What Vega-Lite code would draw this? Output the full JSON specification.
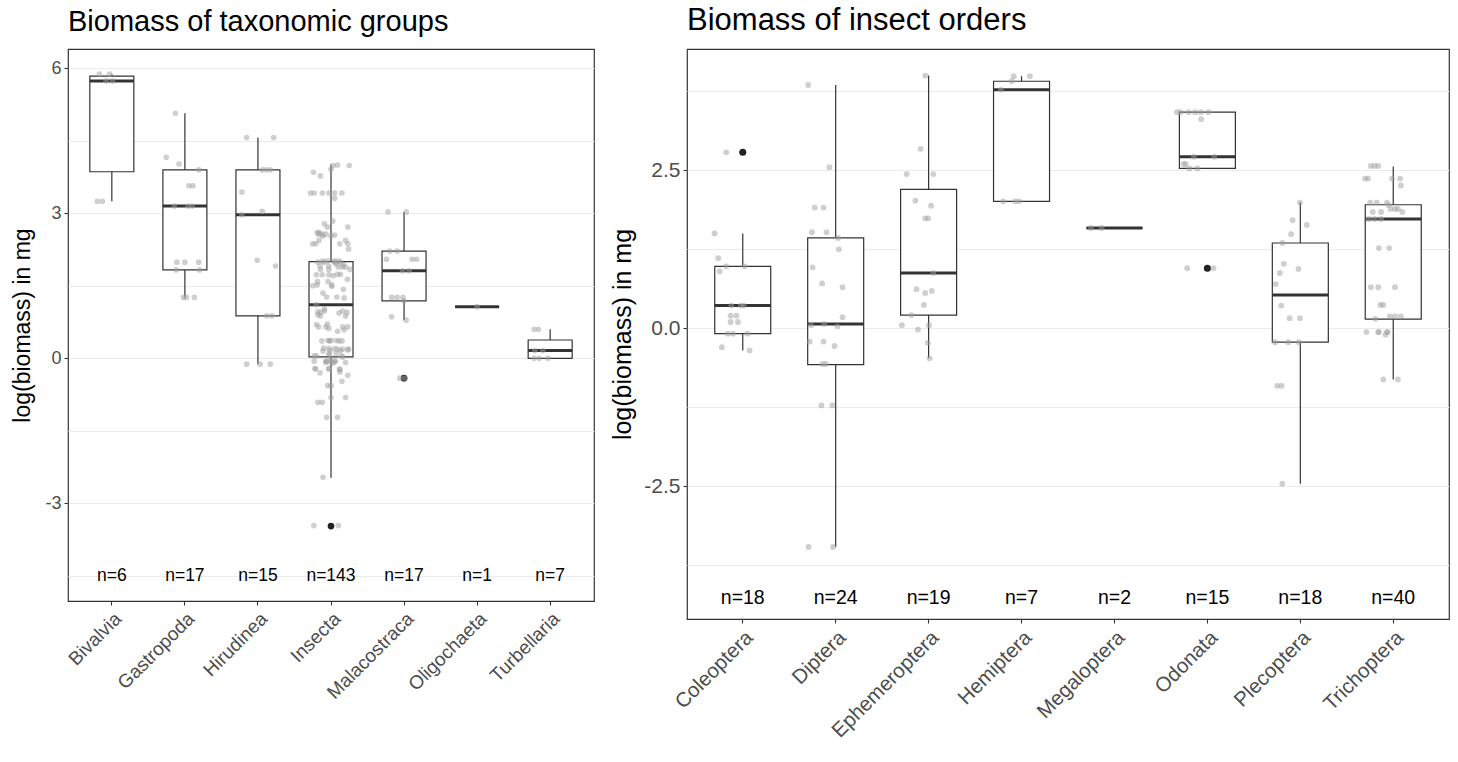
{
"$schema": "https://vega.github.io/schema/vega-lite/v6.json",
"autosize": {"type": "pad"},
"padding": {"left": 11, "top": 4, "right": 5, "bottom": 5},
"bounds": "flush",
"spacing": 93,
"config": {
  "font": "Liberation Sans",
  "view": {"stroke": "#333333", "strokeWidth": 1.2},
  "title": {"fontWeight": "normal", "color": "#000000", "anchor": "start", "frame": "group", "font": "Liberation Sans"},
  "axis": {"labelFont": "Liberation Sans", "titleFont": "Liberation Sans", "titleFontWeight": "normal", "titleColor": "#000000", "labelColor": "#4d4d4d", "tickColor": "#333333", "domain": false}
},
"datasets": {
  "lbox": [
    {"g": "Bivalvia", "lo": 3.25, "q1": 3.86, "med": 5.74, "q3": 5.84, "hi": 5.88, "lab": "n=6"},
    {"g": "Gastropoda", "lo": 1.26, "q1": 1.83, "med": 3.15, "q3": 3.9, "hi": 5.07, "lab": "n=17"},
    {"g": "Hirudinea", "lo": -0.12, "q1": 0.88, "med": 2.97, "q3": 3.9, "hi": 4.57, "lab": "n=15"},
    {"g": "Insecta", "lo": -2.47, "q1": 0.03, "med": 1.11, "q3": 2.0, "hi": 4.01, "lab": "n=143"},
    {"g": "Malacostraca", "lo": 0.79, "q1": 1.19, "med": 1.81, "q3": 2.22, "hi": 3.03, "lab": "n=17"},
    {"g": "Oligochaeta", "lo": 1.07, "q1": 1.07, "med": 1.07, "q3": 1.07, "hi": 1.07, "lab": "n=1"},
    {"g": "Turbellaria", "lo": 0, "q1": 0, "med": 0.16, "q3": 0.38, "hi": 0.6, "lab": "n=7"}
  ],
  "lout": [
    {"g": "Insecta", "v": -3.47},
    {"g": "Malacostraca", "v": -0.41}
  ],
  "lpts": [
    {"g": "Bivalvia", "v": 5.88, "j": -0.17}, {"g": "Bivalvia", "v": 5.88, "j": -0.03}, {"g": "Bivalvia", "v": 5.74, "j": -0.08}, {"g": "Bivalvia", "v": 5.74, "j": 0.01}, {"g": "Bivalvia", "v": 3.25, "j": -0.2}, {"g": "Bivalvia", "v": 3.25, "j": -0.13},
    {"g": "Gastropoda", "v": 5.07, "j": -0.13}, {"g": "Gastropoda", "v": 4.16, "j": -0.255}, {"g": "Gastropoda", "v": 4.02, "j": -0.08}, {"g": "Gastropoda", "v": 3.9, "j": 0.19}, {"g": "Gastropoda", "v": 3.57, "j": 0.055}, {"g": "Gastropoda", "v": 3.57, "j": 0.11}, {"g": "Gastropoda", "v": 3.15, "j": -0.145}, {"g": "Gastropoda", "v": 3.15, "j": 0.04}, {"g": "Gastropoda", "v": 3.15, "j": 0.1}, {"g": "Gastropoda", "v": 1.99, "j": -0.11}, {"g": "Gastropoda", "v": 1.99, "j": 0.19}, {"g": "Gastropoda", "v": 1.99, "j": 0.0}, {"g": "Gastropoda", "v": 1.83, "j": -0.12}, {"g": "Gastropoda", "v": 1.83, "j": 0.2}, {"g": "Gastropoda", "v": 1.26, "j": -0.02}, {"g": "Gastropoda", "v": 1.26, "j": 0.02}, {"g": "Gastropoda", "v": 1.26, "j": 0.13},
    {"g": "Hirudinea", "v": 4.57, "j": -0.155}, {"g": "Hirudinea", "v": 4.57, "j": 0.215}, {"g": "Hirudinea", "v": 3.9, "j": 0.06}, {"g": "Hirudinea", "v": 3.9, "j": 0.17}, {"g": "Hirudinea", "v": 3.9, "j": 0.115}, {"g": "Hirudinea", "v": 3.44, "j": -0.22}, {"g": "Hirudinea", "v": 3.04, "j": 0.06}, {"g": "Hirudinea", "v": 2.97, "j": -0.22}, {"g": "Hirudinea", "v": 2.03, "j": -0.01}, {"g": "Hirudinea", "v": 1.91, "j": 0.24}, {"g": "Hirudinea", "v": 0.88, "j": 0.12}, {"g": "Hirudinea", "v": 0.88, "j": 0.19}, {"g": "Hirudinea", "v": -0.12, "j": -0.155}, {"g": "Hirudinea", "v": -0.12, "j": 0.03}, {"g": "Hirudinea", "v": -0.12, "j": 0.17},
    {"g": "Malacostraca", "v": 3.03, "j": -0.22}, {"g": "Malacostraca", "v": 3.03, "j": 0.03}, {"g": "Malacostraca", "v": 2.22, "j": -0.195}, {"g": "Malacostraca", "v": 2.22, "j": -0.095}, {"g": "Malacostraca", "v": 2.05, "j": -0.24}, {"g": "Malacostraca", "v": 2.05, "j": 0.11}, {"g": "Malacostraca", "v": 2.05, "j": 0.17}, {"g": "Malacostraca", "v": 1.81, "j": -0.02}, {"g": "Malacostraca", "v": 1.81, "j": 0.07}, {"g": "Malacostraca", "v": 1.26, "j": -0.17}, {"g": "Malacostraca", "v": 1.26, "j": -0.095}, {"g": "Malacostraca", "v": 1.26, "j": -0.015}, {"g": "Malacostraca", "v": 1.19, "j": 0.0}, {"g": "Malacostraca", "v": 0.86, "j": -0.17}, {"g": "Malacostraca", "v": 0.79, "j": 0.03}, {"g": "Malacostraca", "v": -0.41, "j": -0.06}, {"g": "Malacostraca", "v": -0.41, "j": 0.01},
    {"g": "Oligochaeta", "v": 1.07, "j": 0.0},
    {"g": "Turbellaria", "v": 0.6, "j": -0.22}, {"g": "Turbellaria", "v": 0.6, "j": -0.16}, {"g": "Turbellaria", "v": 0.16, "j": -0.21}, {"g": "Turbellaria", "v": 0.16, "j": -0.1}, {"g": "Turbellaria", "v": 0, "j": -0.22}, {"g": "Turbellaria", "v": 0, "j": -0.15}, {"g": "Turbellaria", "v": 0, "j": -0.03}
  ],
  "rbox": [
    {"o": "Coleoptera", "lo": -0.35, "q1": -0.085, "med": 0.36, "q3": 0.98, "hi": 1.5, "lab": "n=18"},
    {"o": "Diptera", "lo": -3.46, "q1": -0.576, "med": 0.07, "q3": 1.43, "hi": 3.85, "lab": "n=24"},
    {"o": "Ephemeroptera", "lo": -0.475, "q1": 0.21, "med": 0.875, "q3": 2.2, "hi": 4.0, "lab": "n=19"},
    {"o": "Hemiptera", "lo": 2.01, "q1": 2.01, "med": 3.775, "q3": 3.91, "hi": 3.99, "lab": "n=7"},
    {"o": "Megaloptera", "lo": 1.587, "q1": 1.587, "med": 1.587, "q3": 1.587, "hi": 1.587, "lab": "n=2"},
    {"o": "Odonata", "lo": 2.53, "q1": 2.53, "med": 2.715, "q3": 3.42, "hi": 3.42, "lab": "n=15"},
    {"o": "Plecoptera", "lo": -2.46, "q1": -0.22, "med": 0.527, "q3": 1.35, "hi": 1.99, "lab": "n=18"},
    {"o": "Trichoptera", "lo": -0.81, "q1": 0.145, "med": 1.73, "q3": 1.955, "hi": 2.56, "lab": "n=40"}
  ],
  "rout": [
    {"o": "Coleoptera", "v": 2.785},
    {"o": "Odonata", "v": 0.95}
  ],
  "ins": [
    {"g": "Insecta", "o": "Coleoptera", "v": 2.785, "j": -0.09}, {"g": "Insecta", "o": "Coleoptera", "v": 1.5, "j": -0.25}, {"g": "Insecta", "o": "Coleoptera", "v": 1.11, "j": -0.2}, {"g": "Insecta", "o": "Coleoptera", "v": 0.98, "j": -0.09}, {"g": "Insecta", "o": "Coleoptera", "v": 0.98, "j": 0.16}, {"g": "Insecta", "o": "Coleoptera", "v": 0.9, "j": -0.18}, {"g": "Insecta", "o": "Coleoptera", "v": 0.36, "j": 0.11}, {"g": "Insecta", "o": "Coleoptera", "v": 0.36, "j": 0.15}, {"g": "Insecta", "o": "Coleoptera", "v": 0.36, "j": -0.02}, {"g": "Insecta", "o": "Coleoptera", "v": 0.2, "j": -0.03}, {"g": "Insecta", "o": "Coleoptera", "v": 0.2, "j": 0.05}, {"g": "Insecta", "o": "Coleoptera", "v": 0.1, "j": -0.03}, {"g": "Insecta", "o": "Coleoptera", "v": 0.1, "j": 0.07}, {"g": "Insecta", "o": "Coleoptera", "v": -0.085, "j": -0.07}, {"g": "Insecta", "o": "Coleoptera", "v": -0.085, "j": 0.2}, {"g": "Insecta", "o": "Coleoptera", "v": -0.085, "j": 0.0}, {"g": "Insecta", "o": "Coleoptera", "v": -0.3, "j": -0.15}, {"g": "Insecta", "o": "Coleoptera", "v": -0.35, "j": 0.23},
    {"g": "Insecta", "o": "Diptera", "v": 3.85, "j": -0.24}, {"g": "Insecta", "o": "Diptera", "v": 2.55, "j": 0.05}, {"g": "Insecta", "o": "Diptera", "v": 1.91, "j": -0.15}, {"g": "Insecta", "o": "Diptera", "v": 1.91, "j": -0.03}, {"g": "Insecta", "o": "Diptera", "v": 1.52, "j": -0.19}, {"g": "Insecta", "o": "Diptera", "v": 1.52, "j": 0.01}, {"g": "Insecta", "o": "Diptera", "v": 1.43, "j": 0.17}, {"g": "Insecta", "o": "Diptera", "v": 1.25, "j": 0.18}, {"g": "Insecta", "o": "Diptera", "v": 0.965, "j": -0.18}, {"g": "Insecta", "o": "Diptera", "v": 0.71, "j": -0.05}, {"g": "Insecta", "o": "Diptera", "v": 0.65, "j": 0.23}, {"g": "Insecta", "o": "Diptera", "v": 0.175, "j": 0.23}, {"g": "Insecta", "o": "Diptera", "v": 0.07, "j": -0.02}, {"g": "Insecta", "o": "Diptera", "v": 0.05, "j": -0.2}, {"g": "Insecta", "o": "Diptera", "v": 0.03, "j": 0.16}, {"g": "Insecta", "o": "Diptera", "v": -0.21, "j": -0.22}, {"g": "Insecta", "o": "Diptera", "v": -0.21, "j": -0.03}, {"g": "Insecta", "o": "Diptera", "v": -0.28, "j": 0.12}, {"g": "Insecta", "o": "Diptera", "v": -0.565, "j": -0.045}, {"g": "Insecta", "o": "Diptera", "v": -0.565, "j": 0.0}, {"g": "Insecta", "o": "Diptera", "v": -1.22, "j": -0.06}, {"g": "Insecta", "o": "Diptera", "v": -1.22, "j": 0.09}, {"g": "Insecta", "o": "Diptera", "v": -3.46, "j": -0.235}, {"g": "Insecta", "o": "Diptera", "v": -3.46, "j": 0.1},
    {"g": "Insecta", "o": "Ephemeroptera", "v": 4.0, "j": 0.09}, {"g": "Insecta", "o": "Ephemeroptera", "v": 2.84, "j": 0.025}, {"g": "Insecta", "o": "Ephemeroptera", "v": 2.44, "j": -0.165}, {"g": "Insecta", "o": "Ephemeroptera", "v": 2.44, "j": 0.2}, {"g": "Insecta", "o": "Ephemeroptera", "v": 2.02, "j": -0.045}, {"g": "Insecta", "o": "Ephemeroptera", "v": 1.94, "j": 0.17}, {"g": "Insecta", "o": "Ephemeroptera", "v": 1.74, "j": 0.09}, {"g": "Insecta", "o": "Ephemeroptera", "v": 1.74, "j": 0.13}, {"g": "Insecta", "o": "Ephemeroptera", "v": 0.875, "j": 0.2}, {"g": "Insecta", "o": "Ephemeroptera", "v": 0.62, "j": -0.03}, {"g": "Insecta", "o": "Ephemeroptera", "v": 0.59, "j": 0.18}, {"g": "Insecta", "o": "Ephemeroptera", "v": 0.56, "j": 0.09}, {"g": "Insecta", "o": "Ephemeroptera", "v": 0.37, "j": 0.07}, {"g": "Insecta", "o": "Ephemeroptera", "v": 0.21, "j": -0.1}, {"g": "Insecta", "o": "Ephemeroptera", "v": 0.05, "j": -0.23}, {"g": "Insecta", "o": "Ephemeroptera", "v": 0.05, "j": 0.14}, {"g": "Insecta", "o": "Ephemeroptera", "v": -0.02, "j": -0.01}, {"g": "Insecta", "o": "Ephemeroptera", "v": -0.23, "j": 0.125}, {"g": "Insecta", "o": "Ephemeroptera", "v": -0.475, "j": 0.15},
    {"g": "Insecta", "o": "Hemiptera", "v": 3.99, "j": 0.03}, {"g": "Insecta", "o": "Hemiptera", "v": 3.99, "j": 0.25}, {"g": "Insecta", "o": "Hemiptera", "v": 3.91, "j": 0.0}, {"g": "Insecta", "o": "Hemiptera", "v": 3.775, "j": -0.145}, {"g": "Insecta", "o": "Hemiptera", "v": 2.01, "j": -0.115}, {"g": "Insecta", "o": "Hemiptera", "v": 2.01, "j": 0.045}, {"g": "Insecta", "o": "Hemiptera", "v": 2.01, "j": 0.1},
    {"g": "Insecta", "o": "Megaloptera", "v": 1.587, "j": -0.185}, {"g": "Insecta", "o": "Megaloptera", "v": 1.587, "j": -0.04},
    {"g": "Insecta", "o": "Odonata", "v": 3.42, "j": -0.28}, {"g": "Insecta", "o": "Odonata", "v": 3.42, "j": -0.23}, {"g": "Insecta", "o": "Odonata", "v": 3.42, "j": -0.12}, {"g": "Insecta", "o": "Odonata", "v": 3.42, "j": -0.03}, {"g": "Insecta", "o": "Odonata", "v": 3.42, "j": 0.05}, {"g": "Insecta", "o": "Odonata", "v": 3.42, "j": 0.15}, {"g": "Insecta", "o": "Odonata", "v": 3.31, "j": 0.05}, {"g": "Insecta", "o": "Odonata", "v": 2.715, "j": 0.23}, {"g": "Insecta", "o": "Odonata", "v": 2.715, "j": -0.05}, {"g": "Insecta", "o": "Odonata", "v": 2.6, "j": -0.19}, {"g": "Insecta", "o": "Odonata", "v": 2.6, "j": -0.16}, {"g": "Insecta", "o": "Odonata", "v": 2.53, "j": -0.11}, {"g": "Insecta", "o": "Odonata", "v": 2.53, "j": 0.0}, {"g": "Insecta", "o": "Odonata", "v": 0.95, "j": -0.14}, {"g": "Insecta", "o": "Odonata", "v": 0.95, "j": 0.22},
    {"g": "Insecta", "o": "Plecoptera", "v": 1.99, "j": 0.13}, {"g": "Insecta", "o": "Plecoptera", "v": 1.71, "j": 0.03}, {"g": "Insecta", "o": "Plecoptera", "v": 1.635, "j": 0.225}, {"g": "Insecta", "o": "Plecoptera", "v": 1.49, "j": 0.01}, {"g": "Insecta", "o": "Plecoptera", "v": 1.35, "j": -0.11}, {"g": "Insecta", "o": "Plecoptera", "v": 1.02, "j": -0.09}, {"g": "Insecta", "o": "Plecoptera", "v": 0.94, "j": 0.11}, {"g": "Insecta", "o": "Plecoptera", "v": 0.875, "j": -0.145}, {"g": "Insecta", "o": "Plecoptera", "v": 0.7, "j": -0.2}, {"g": "Insecta", "o": "Plecoptera", "v": 0.36, "j": -0.125}, {"g": "Insecta", "o": "Plecoptera", "v": 0.16, "j": -0.01}, {"g": "Insecta", "o": "Plecoptera", "v": 0.16, "j": 0.13}, {"g": "Insecta", "o": "Plecoptera", "v": -0.22, "j": -0.21}, {"g": "Insecta", "o": "Plecoptera", "v": -0.22, "j": -0.03}, {"g": "Insecta", "o": "Plecoptera", "v": -0.22, "j": 0.115}, {"g": "Insecta", "o": "Plecoptera", "v": -0.91, "j": -0.18}, {"g": "Insecta", "o": "Plecoptera", "v": -0.91, "j": -0.12}, {"g": "Insecta", "o": "Plecoptera", "v": -2.46, "j": -0.11},
    {"g": "Insecta", "o": "Trichoptera", "v": 2.57, "j": -0.17}, {"g": "Insecta", "o": "Trichoptera", "v": 2.57, "j": -0.12}, {"g": "Insecta", "o": "Trichoptera", "v": 2.57, "j": -0.07}, {"g": "Insecta", "o": "Trichoptera", "v": 2.37, "j": -0.25}, {"g": "Insecta", "o": "Trichoptera", "v": 2.37, "j": -0.21}, {"g": "Insecta", "o": "Trichoptera", "v": 2.37, "j": 0.12}, {"g": "Insecta", "o": "Trichoptera", "v": 2.37, "j": 0.23}, {"g": "Insecta", "o": "Trichoptera", "v": 2.26, "j": 0.24}, {"g": "Insecta", "o": "Trichoptera", "v": 1.99, "j": -0.18}, {"g": "Insecta", "o": "Trichoptera", "v": 1.99, "j": -0.09}, {"g": "Insecta", "o": "Trichoptera", "v": 1.99, "j": 0.05}, {"g": "Insecta", "o": "Trichoptera", "v": 1.95, "j": 0.07}, {"g": "Insecta", "o": "Trichoptera", "v": 1.89, "j": 0.1}, {"g": "Insecta", "o": "Trichoptera", "v": 1.89, "j": 0.16}, {"g": "Insecta", "o": "Trichoptera", "v": 1.89, "j": 0.2}, {"g": "Insecta", "o": "Trichoptera", "v": 1.84, "j": -0.145}, {"g": "Insecta", "o": "Trichoptera", "v": 1.84, "j": -0.03}, {"g": "Insecta", "o": "Trichoptera", "v": 1.84, "j": 0.26}, {"g": "Insecta", "o": "Trichoptera", "v": 1.73, "j": -0.2}, {"g": "Insecta", "o": "Trichoptera", "v": 1.73, "j": -0.12}, {"g": "Insecta", "o": "Trichoptera", "v": 1.73, "j": -0.03}, {"g": "Insecta", "o": "Trichoptera", "v": 1.27, "j": -0.06}, {"g": "Insecta", "o": "Trichoptera", "v": 1.27, "j": 0.08}, {"g": "Insecta", "o": "Trichoptera", "v": 0.65, "j": -0.17}, {"g": "Insecta", "o": "Trichoptera", "v": 0.65, "j": -0.07}, {"g": "Insecta", "o": "Trichoptera", "v": 0.65, "j": 0.16}, {"g": "Insecta", "o": "Trichoptera", "v": 0.37, "j": 0.0}, {"g": "Insecta", "o": "Trichoptera", "v": 0.37, "j": -0.04}, {"g": "Insecta", "o": "Trichoptera", "v": 0.19, "j": 0.09}, {"g": "Insecta", "o": "Trichoptera", "v": 0.19, "j": 0.16}, {"g": "Insecta", "o": "Trichoptera", "v": 0.19, "j": 0.24}, {"g": "Insecta", "o": "Trichoptera", "v": 0.15, "j": -0.11}, {"g": "Insecta", "o": "Trichoptera", "v": -0.06, "j": -0.23}, {"g": "Insecta", "o": "Trichoptera", "v": -0.06, "j": -0.07}, {"g": "Insecta", "o": "Trichoptera", "v": -0.06, "j": 0.05}, {"g": "Insecta", "o": "Trichoptera", "v": -0.06, "j": -0.06}, {"g": "Insecta", "o": "Trichoptera", "v": -0.06, "j": 0.06}, {"g": "Insecta", "o": "Trichoptera", "v": -0.1, "j": 0.03}, {"g": "Insecta", "o": "Trichoptera", "v": -0.81, "j": 0.0}, {"g": "Insecta", "o": "Trichoptera", "v": -0.81, "j": 0.2}
  ]
},
"hconcat": [
  {
    "width": 526,
    "height": 552,
    "title": {"text": "Biomass of taxonomic groups", "fontSize": 29, "offset": 12},
    "encoding": {
      "x": {"field": "g", "type": "nominal", "title": null,
        "sort": ["Bivalvia", "Gastropoda", "Hirudinea", "Insecta", "Malacostraca", "Oligochaeta", "Turbellaria"],
        "scale": {"type": "band", "paddingInner": 0, "paddingOuter": 0.1},
        "axis": {"labelAngle": -45, "labelAlign": "right", "labelBaseline": "top", "labelFontSize": 19, "labelPadding": 4, "tickSize": 4, "tickWidth": 1.1, "grid": false, "labelOverlap": false}}
    },
    "layer": [
      {"data": {"name": "lbox"}, "mark": {"type": "rule", "color": "#333333", "strokeWidth": 1.2},
       "encoding": {
         "y": {"field": "lo", "type": "quantitative", "scale": {"domain": [-5.02, 6.4], "nice": false, "zero": false},
           "axis": {"title": "log(biomass) in mg", "titleFontSize": 23, "titlePadding": 10,
             "values": [-4.5, -3, -1.5, 0, 1.5, 3, 4.5, 6],
             "labelExpr": "datum.value % 3 === 0 ? '' + datum.value : ''",
             "labelFontSize": 18, "labelPadding": 3, "tickSize": 4, "tickWidth": 1.1,
             "tickOpacity": {"condition": {"test": "datum.value % 3 !== 0", "value": 0}, "value": 1},
             "grid": true, "gridColor": "#ebebeb", "gridWidth": 1.1, "labelOverlap": false}},
         "y2": {"field": "hi"}}},
      {"data": {"name": "lbox"}, "mark": {"type": "bar", "size": 44, "fill": "#ffffff", "stroke": "#333333", "strokeWidth": 1.2},
       "encoding": {"y": {"field": "q1", "type": "quantitative"}, "y2": {"field": "q3"}}},
      {"data": {"name": "lbox"}, "mark": {"type": "tick", "size": 44, "thickness": 3, "color": "#333333", "opacity": 1},
       "encoding": {"y": {"field": "med", "type": "quantitative"}}},
      {"data": {"name": "lout"}, "mark": {"type": "circle", "size": 45, "color": "#222222", "opacity": 1},
       "encoding": {"y": {"field": "v", "type": "quantitative"}}},
      {"data": {"name": "lpts"}, "mark": {"type": "circle", "size": 32, "color": "#a0a0a0", "opacity": 0.5},
       "encoding": {"y": {"field": "v", "type": "quantitative"},
         "xOffset": {"field": "j", "type": "quantitative", "scale": {"domain": [-0.5, 0.5], "range": [0, 73.06]}}}},
      {"data": {"name": "ins"}, "mark": {"type": "circle", "size": 32, "color": "#a0a0a0", "opacity": 0.5},
       "encoding": {"y": {"field": "v", "type": "quantitative"},
         "xOffset": {"field": "j", "type": "quantitative", "scale": {"domain": [-0.5, 0.5], "range": [0, 73.06]}}}},
      {"data": {"name": "lbox"}, "mark": {"type": "text", "fontSize": 17.5, "color": "#000000", "font": "Liberation Sans", "baseline": "middle"},
       "encoding": {"y": {"datum": -4.5, "type": "quantitative"}, "text": {"field": "lab"}}}
    ]
  },
  {
    "width": 762,
    "height": 570,
    "title": {"text": "Biomass of insect orders", "fontSize": 31, "offset": 12},
    "encoding": {
      "x": {"field": "o", "type": "nominal", "title": null,
        "sort": ["Coleoptera", "Diptera", "Ephemeroptera", "Hemiptera", "Megaloptera", "Odonata", "Plecoptera", "Trichoptera"],
        "scale": {"type": "band", "paddingInner": 0, "paddingOuter": 0.1},
        "axis": {"labelAngle": -45, "labelAlign": "right", "labelBaseline": "top", "labelFontSize": 20.5, "labelPadding": 4, "tickSize": 4, "tickWidth": 1.1, "grid": false, "labelOverlap": false}}
    },
    "layer": [
      {"data": {"name": "rbox"}, "mark": {"type": "rule", "color": "#333333", "strokeWidth": 1.2},
       "encoding": {
         "y": {"field": "lo", "type": "quantitative", "scale": {"domain": [-4.6, 4.42], "nice": false, "zero": false},
           "axis": {"title": "log(biomass) in mg", "titleFontSize": 25, "titlePadding": 8,
             "values": [-3.75, -2.5, -1.25, 0, 1.25, 2.5, 3.75],
             "labelExpr": "datum.value === 0 ? '0.0' : (abs(datum.value) === 2.5 ? '' + datum.value : '')",
             "labelFontSize": 21, "labelPadding": 3, "tickSize": 4, "tickWidth": 1.1,
             "tickOpacity": {"condition": {"test": "datum.value !== 0 && abs(datum.value) !== 2.5", "value": 0}, "value": 1},
             "grid": true, "gridColor": "#ebebeb", "gridWidth": 1.1, "labelOverlap": false}},
         "y2": {"field": "hi"}}},
      {"data": {"name": "rbox"}, "mark": {"type": "bar", "size": 56, "fill": "#ffffff", "stroke": "#333333", "strokeWidth": 1.2},
       "encoding": {"y": {"field": "q1", "type": "quantitative"}, "y2": {"field": "q3"}}},
      {"data": {"name": "rbox"}, "mark": {"type": "tick", "size": 56, "thickness": 3, "color": "#333333", "opacity": 1},
       "encoding": {"y": {"field": "med", "type": "quantitative"}}},
      {"data": {"name": "rout"}, "mark": {"type": "circle", "size": 50, "color": "#222222", "opacity": 1},
       "encoding": {"y": {"field": "v", "type": "quantitative"}}},
      {"data": {"name": "ins"}, "mark": {"type": "circle", "size": 34, "color": "#a0a0a0", "opacity": 0.5},
       "encoding": {"y": {"field": "v", "type": "quantitative"},
         "xOffset": {"field": "j", "type": "quantitative", "scale": {"domain": [-0.5, 0.5], "range": [0, 92.93]}}}},
      {"data": {"name": "rbox"}, "mark": {"type": "text", "fontSize": 19.5, "color": "#000000", "font": "Liberation Sans", "baseline": "middle"},
       "encoding": {"y": {"datum": -4.27, "type": "quantitative"}, "text": {"field": "lab"}}}
    ]
  }
]
}
